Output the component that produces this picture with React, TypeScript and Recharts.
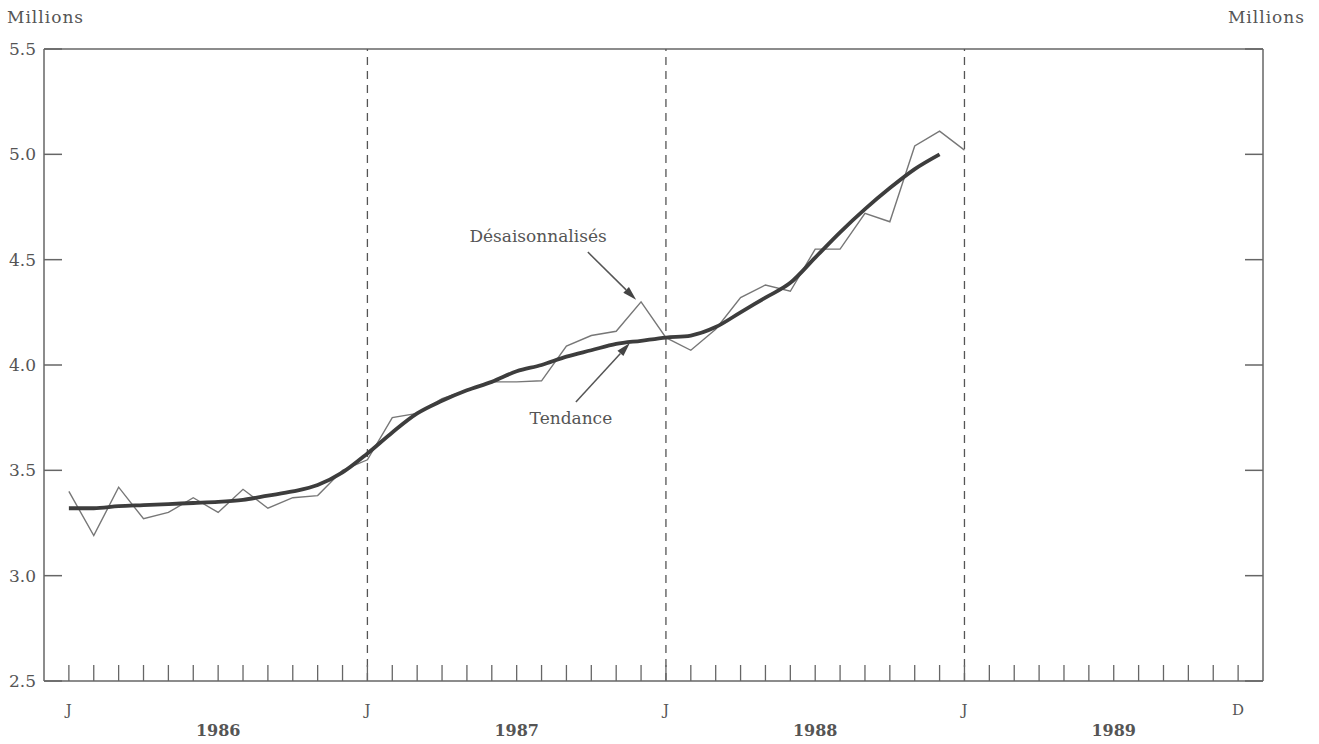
import React from 'react';
import { LineChart, Line, XAxis, YAxis, ReferenceLine, ReferenceDot } from 'recharts';

// Month index 0 = January 1986 ... 47 = December 1989
const MONTH_TICKS = Array.from({ length: 48 }, (_, i) => i);
const MONTH_LABEL_POS = [0, 12, 24, 36, 47];
const MONTH_LABELS = ['J', 'J', 'J', 'J', 'D'];
const YEAR_LABEL_POS = [6, 18, 30, 42];
const YEAR_LABELS = ['1986', '1987', '1988', '1989'];
const YEAR_BREAKS = [12, 24, 36];
const X_DOMAIN = [-1, 48];
const Y_DOMAIN = [2.5, 5.5];
const Y_TICKS = [2.5, 3.0, 3.5, 4.0, 4.5, 5.0, 5.5];

// Seasonally adjusted (Désaisonnalisés), Jan 1986 - Jan 1989
const DESEASON = [
  3.40, 3.19, 3.42, 3.27, 3.30, 3.37, 3.30, 3.41, 3.32, 3.37, 3.38, 3.50,
  3.55, 3.75, 3.77, 3.84, 3.88, 3.92, 3.92, 3.925, 4.09, 4.14, 4.16, 4.30,
  4.13, 4.07, 4.17, 4.32, 4.38, 4.35, 4.55, 4.55, 4.72, 4.68, 5.04, 5.11,
  5.02,
];
// Trend (Tendance), Jan 1986 - Dec 1988
const TREND = [
  3.32, 3.32, 3.33, 3.335, 3.34, 3.345, 3.35, 3.36, 3.38, 3.40, 3.43, 3.49,
  3.58, 3.68, 3.77, 3.83, 3.88, 3.92, 3.97, 4.00, 4.04, 4.07, 4.10, 4.115,
  4.13, 4.14, 4.18, 4.25, 4.32, 4.39, 4.51, 4.63, 4.74, 4.84, 4.93, 5.00,
];

// Annotations (data coordinates)
const ANNOT_DES_TEXT = { x: 18.86, y: 4.61, text: 'Désaisonnalisés' };
const ANNOT_DES_ARROW = [{ x: 20.86, y: 4.536 }, { x: 22.8, y: 4.31 }];
const ANNOT_TEN_TEXT = { x: 20.18, y: 3.748, text: 'Tendance' };
const ANNOT_TEN_ARROW = [{ x: 20.38, y: 3.824 }, { x: 22.55, y: 4.104 }];

const Y_TICK_LEN = 18;

const data = DESEASON.map((d, i) => ({ m: i, d, t: i < TREND.length ? TREND[i] : null }));
// points on the left frame edge, one per y tick, used to draw the inward tick marks
const leftTickData = Y_TICKS.map((v) => ({ m: X_DOMAIN[0], tv: v }));

const FONT = 'DejaVu Serif';
const INK = '#555';
const AXIS = '#666';

const MonthTick = (props: any) => {
  const { x, y, payload } = props;
  const v = payload.value;
  const mi = MONTH_LABEL_POS.indexOf(v);
  const yi = YEAR_LABEL_POS.indexOf(v);
  return (
    <g>
      <line x1={x} x2={x} y1={y} y2={y - 16} stroke={AXIS} strokeWidth={1.3} />
      {mi >= 0 && (
        <text x={x} y={y + 34} textAnchor="middle" fontFamily={FONT} fontSize={15} fill={INK}>
          {MONTH_LABELS[mi]}
        </text>
      )}
      {yi >= 0 && (
        <text x={x} y={y + 55} textAnchor="middle" fontFamily={FONT} fontSize={16} fontWeight="bold" fill={INK}>
          {YEAR_LABELS[yi]}
        </text>
      )}
    </g>
  );
};

const LeftTick = (props: any) => (
  <text x={Number(props.x) - 8} y={Number(props.y) + 6} textAnchor="end" fontFamily={FONT} fontSize={17} fill={INK}>
    {Number(props.payload.value).toFixed(1)}
  </text>
);

const RightTick = (props: any) => (
  <text x={Number(props.x) + 14} y={Number(props.y) + 6} textAnchor="start" fontFamily={FONT} fontSize={17} fill={INK}>
    {Number(props.payload.value).toFixed(1)}
  </text>
);

// Right-edge inward tick mark drawn from a horizontal reference line
const RightEdgeTick = (props: any) => {
  const x2 = Math.max(Number(props.x1), Number(props.x2));
  const y = Number(props.y1);
  return <path d={`M${x2 - Y_TICK_LEN},${y}H${x2}`} stroke={AXIS} strokeWidth={1.5} fill="none" />;
};

// Left-edge inward tick mark drawn as the dot of a helper series
const LeftEdgeTickDot = (props: any) => {
  const { cx, cy, index } = props;
  if (cx == null || cy == null) return <g key={`lt${index}`} />;
  return (
    <path key={`lt${index}`} d={`M${cx},${cy}H${cx + Y_TICK_LEN}`} stroke={AXIS} strokeWidth={1.5} fill="none" />
  );
};

const Arrow = (props: any) => {
  const { x1, y1, x2, y2 } = props;
  const ang = Math.atan2(y2 - y1, x2 - x1);
  const L = 14;
  const W = 4;
  const bx = x2 - L * Math.cos(ang);
  const by = y2 - L * Math.sin(ang);
  const px = -Math.sin(ang) * W;
  const py = Math.cos(ang) * W;
  return (
    <g>
      <line x1={x1} y1={y1} x2={bx} y2={by} stroke="#555" strokeWidth={1.5} />
      <polygon points={`${x2},${y2} ${bx + px},${by + py} ${bx - px},${by - py}`} fill="#444" />
    </g>
  );
};

const textShape = (text: string) => (props: any) => (
  <text x={props.cx} y={props.cy + 6} textAnchor="middle" fontFamily={FONT} fontSize={17} fill={INK}>
    {text}
  </text>
);

export default function App() {
  return (
    <div style={{ position: 'absolute', left: 0, top: 0, background: '#fff' }}>
      <LineChart width={1319} height={744} data={data} margin={{ top: 49, right: 16, bottom: 3, left: 4 }}>
        <XAxis
          type="number"
          dataKey="m"
          domain={X_DOMAIN}
          ticks={MONTH_TICKS}
          interval={0}
          tick={MonthTick}
          tickLine={false}
          tickSize={0}
          tickMargin={0}
          height={60}
          axisLine={{ stroke: AXIS, strokeWidth: 1.5 }}
        />
        <YAxis
          yAxisId="left"
          orientation="left"
          domain={Y_DOMAIN}
          ticks={Y_TICKS}
          interval={0}
          width={40}
          tick={LeftTick}
          tickLine={false}
          tickSize={0}
          tickMargin={0}
          axisLine={{ stroke: AXIS, strokeWidth: 1.5 }}
          label={{
            content: (p: any) => (
              <text x={p.viewBox.x + 3} y={p.viewBox.y - 26} textAnchor="start" fontFamily={FONT} fontSize={17} fill={INK} letterSpacing={1}>
                Millions
              </text>
            ),
          }}
        />
        <YAxis
          yAxisId="right"
          orientation="right"
          domain={Y_DOMAIN}
          ticks={Y_TICKS}
          interval={0}
          width={40}
          tick={RightTick}
          tickLine={false}
          tickSize={0}
          tickMargin={0}
          axisLine={{ stroke: AXIS, strokeWidth: 1.5 }}
          label={{
            content: (p: any) => (
              <text x={p.viewBox.x + 42} y={p.viewBox.y - 26} textAnchor="end" fontFamily={FONT} fontSize={17} fill={INK} letterSpacing={1}>
                Millions
              </text>
            ),
          }}
        />
        <ReferenceLine yAxisId="left" y={5.5} stroke={AXIS} strokeWidth={1.5} ifOverflow="visible" />
        {Y_TICKS.map((v) => (
          <ReferenceLine key={`t${v}`} yAxisId="left" y={v} ifOverflow="visible" shape={RightEdgeTick} />
        ))}
        {YEAR_BREAKS.map((b) => (
          <ReferenceLine key={b} yAxisId="left" x={b} stroke="#555" strokeWidth={1.3} strokeDasharray="8 6" />
        ))}
        <Line
          yAxisId="left"
          data={leftTickData}
          type="linear"
          dataKey="tv"
          stroke="none"
          dot={LeftEdgeTickDot}
          activeDot={false}
          legendType="none"
          isAnimationActive={false}
        />
        <Line
          yAxisId="left"
          type="linear"
          dataKey="d"
          stroke="#777"
          strokeWidth={1.4}
          dot={false}
          isAnimationActive={false}
        />
        <Line
          yAxisId="left"
          type="monotone"
          dataKey="t"
          stroke="#3d3d3d"
          strokeWidth={3.8}
          dot={false}
          connectNulls={false}
          isAnimationActive={false}
        />
        <ReferenceLine yAxisId="left" segment={ANNOT_DES_ARROW} shape={Arrow} />
        <ReferenceLine yAxisId="left" segment={ANNOT_TEN_ARROW} shape={Arrow} />
        <ReferenceDot yAxisId="left" x={ANNOT_DES_TEXT.x} y={ANNOT_DES_TEXT.y} r={0} shape={textShape(ANNOT_DES_TEXT.text)} />
        <ReferenceDot yAxisId="left" x={ANNOT_TEN_TEXT.x} y={ANNOT_TEN_TEXT.y} r={0} shape={textShape(ANNOT_TEN_TEXT.text)} />
      </LineChart>
    </div>
  );
}
